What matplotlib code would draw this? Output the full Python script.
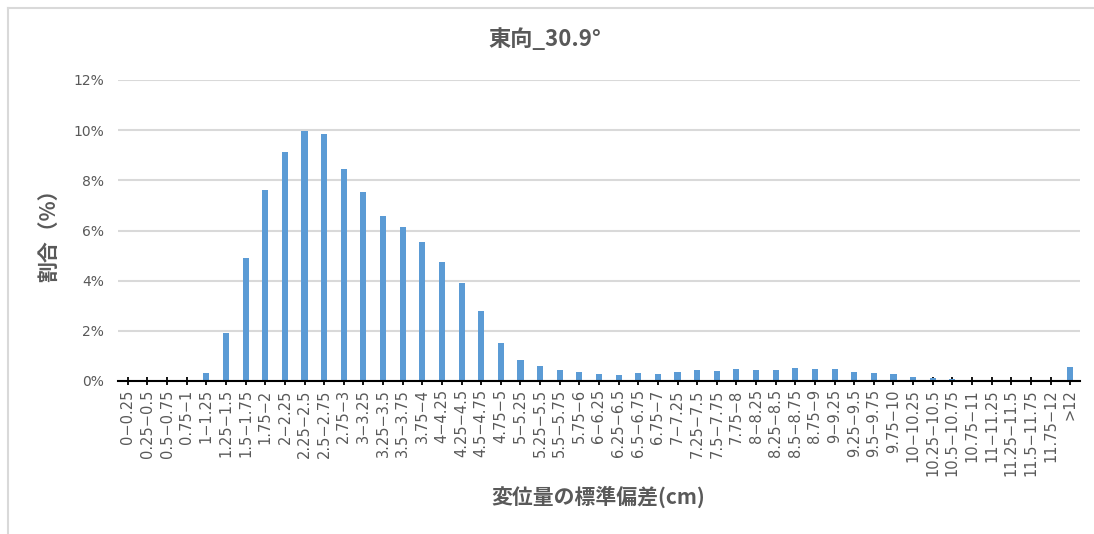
import matplotlib
matplotlib.use("Agg")
import matplotlib.pyplot as plt
from matplotlib.lines import Line2D
from matplotlib.ticker import FuncFormatter, MultipleLocator

plt.rcParams['font.family'] = ['Noto Sans CJK JP', 'DejaVu Sans']

# Bins of the displacement standard deviation (cm)
categories = [
    "0−0.25", "0.25−0.5", "0.5−0.75", "0.75−1", "1−1.25", "1.25−1.5", "1.5−1.75", "1.75−2",
    "2−2.25", "2.25−2.5", "2.5−2.75", "2.75−3", "3−3.25", "3.25−3.5", "3.5−3.75", "3.75−4",
    "4−4.25", "4.25−4.5", "4.5−4.75", "4.75−5", "5−5.25", "5.25−5.5", "5.5−5.75", "5.75−6",
    "6−6.25", "6.25−6.5", "6.5−6.75", "6.75−7", "7−7.25", "7.25−7.5", "7.5−7.75", "7.75−8",
    "8−8.25", "8.25−8.5", "8.5−8.75", "8.75−9", "9−9.25", "9.25−9.5", "9.5−9.75", "9.75−10",
    "10−10.25", "10.25−10.5", "10.5−10.75", "10.75−11", "11−11.25", "11.25−11.5", "11.5−11.75",
    "11.75−12", ">12",
]

# Share of samples in each bin (%)
share_pct = [
    0.0, 0.0, 0.0, 0.01, 0.30, 1.90, 4.89, 7.62,
    9.14, 9.98, 9.84, 8.47, 7.54, 6.57, 6.14, 5.53,
    4.74, 3.89, 2.79, 1.50, 0.82, 0.60, 0.43, 0.36,
    0.28, 0.24, 0.32, 0.28, 0.36, 0.43, 0.39, 0.47,
    0.43, 0.43, 0.50, 0.47, 0.47, 0.36, 0.33, 0.28,
    0.17, 0.12, 0.07, 0.04, 0.0, 0.0, 0.0,
    0.0, 0.57,
]

title = "東向_30.9°"
xlabel = "変位量の標準偏差(cm)"
ylabel = "割合（%）"

text_gray = "#595959"
grid_gray = "#d9d9d9"
bar_blue = "#5b9bd5"

W, H = 1094, 534
fig = plt.figure(figsize=(W / 100, H / 100), dpi=100)
ax = fig.add_axes([118 / W, 1 - 381 / H, (1080 - 118) / W, (381 - 80) / H])

x = list(range(len(categories)))
values = [v / 100 for v in share_pct]
ax.bar(x, values, width=0.31, color=bar_blue, zorder=2)

ax.set_xlim(-0.5, len(categories) - 0.5)
ax.set_ylim(0, 0.12)
ax.yaxis.set_major_locator(MultipleLocator(0.02))
ax.yaxis.set_major_formatter(FuncFormatter(lambda v, _: f"{v * 100:.0f}%"))
ax.grid(axis='y', color=grid_gray, linewidth=1.5, zorder=0)
ax.set_axisbelow(True)

for side in ("left", "right", "top"):
    ax.spines[side].set_visible(False)
ax.spines["bottom"].set_color("black")
ax.spines["bottom"].set_linewidth(1.5)
ax.spines["bottom"].set_zorder(3)

ax.set_xticks(x)
ax.set_xticklabels(categories, rotation=90, fontsize=10.5, color=text_gray,
                   family=['DejaVu Sans'])
ax.tick_params(axis='x', direction='inout', length=6, width=1.3, color='black', pad=3)
ax.tick_params(axis='y', length=0, labelsize=10, labelcolor=text_gray, pad=10)
plt.setp(ax.get_yticklabels(), family=['DejaVu Sans'])

fig.text(545 / W, 1 - 40 / H, title, fontsize=16, fontweight='bold', color=text_gray,
         ha='center', va='center')
fig.text(598 / W, 1 - 497 / H, xlabel, fontsize=15, fontweight='bold', color=text_gray,
         ha='center', va='center')
fig.text(50 / W, 1 - 230 / H, ylabel, fontsize=15, fontweight='bold', color=text_gray,
         ha='center', va='center', rotation=90)

# Chart area frame (left and top edges)
fig.add_artist(Line2D([8 / W, 8 / W], [0, 1 - 8 / H], transform=fig.transFigure,
                      color=grid_gray, linewidth=1.5))
fig.add_artist(Line2D([8 / W, 1], [1 - 8 / H, 1 - 8 / H], transform=fig.transFigure,
                      color=grid_gray, linewidth=1.5))

fig.savefig("out.png", dpi=100)
